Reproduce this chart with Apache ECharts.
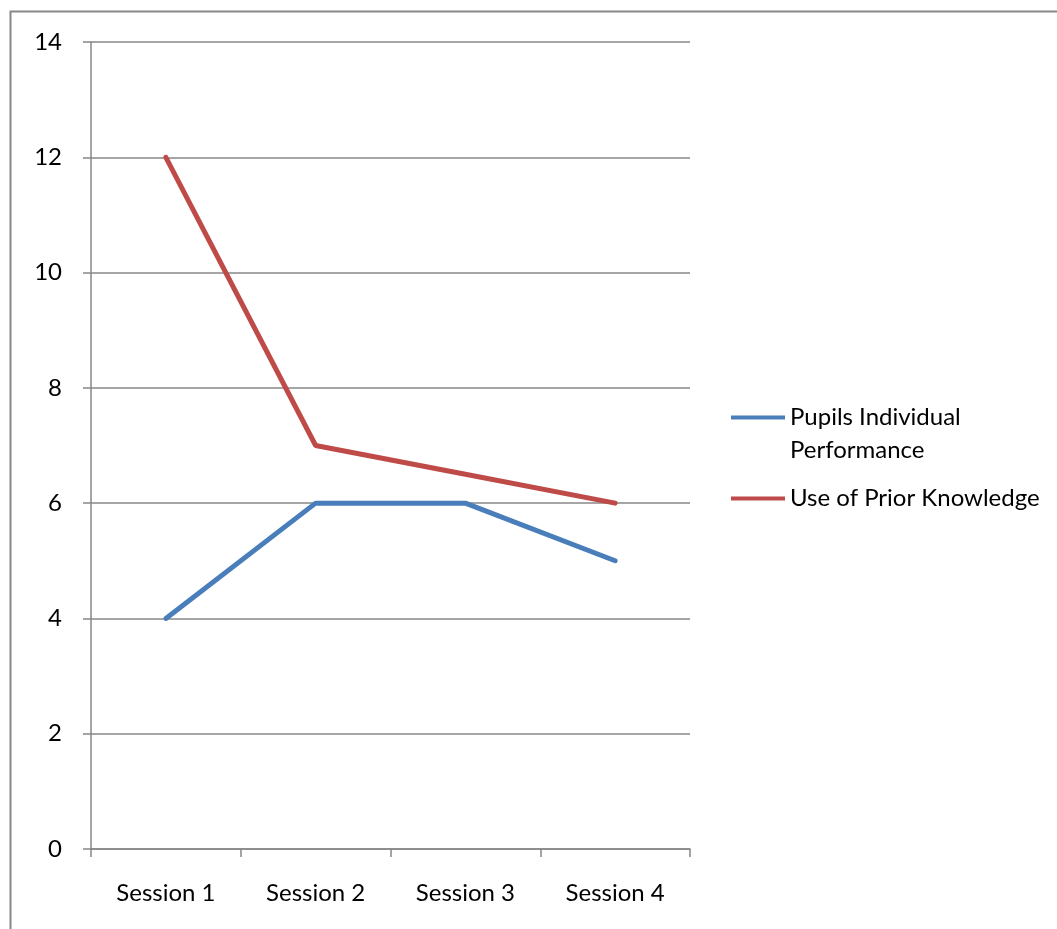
<!DOCTYPE html>
<html>
<head>
<meta charset="utf-8">
<script src="https://cdn.jsdelivr.net/npm/echarts@6/dist/echarts.min.js"></script>
<style>
  html, body { margin: 0; padding: 0; background: #fff; }
  #chart { width: 1057px; height: 929px; }
</style>
</head>
<body>
<div id="chart"></div>
<script>
// Session categories and the two measured series
const sessions = ['Session 1', 'Session 2', 'Session 3', 'Session 4'];
const pupilsPerformance = [4, 6, 6, 5];
const priorKnowledge = [12, 7, 6.5, 6];
const seriesNames = ['Pupils Individual Performance', 'Use of Prior Knowledge'];
// leading blank line keeps the first text line level with the legend swatch
const legendLabels = ['\nPupils Individual\nPerformance', 'Use of Prior Knowledge'];

const FONT = 'Lato, "Open Sans", sans-serif';
const GRAY = '#878787';

const chart = echarts.init(document.getElementById('chart'));
chart.setOption({
  animation: false,
  backgroundColor: '#fff',
  graphic: [{
    type: 'rect',
    shape: { x: 10.5, y: 11.5, width: 1100, height: 1000 },
    style: { fill: 'none', stroke: GRAY, lineWidth: 2 },
    silent: true
  }],
  grid: { left: 91, top: 42, right: 367, bottom: 80, containLabel: false },
  xAxis: {
    type: 'category',
    data: sessions,
    boundaryGap: true,
    axisLine: { lineStyle: { color: GRAY, width: 1.5 } },
    axisTick: { show: true, length: 8, lineStyle: { color: GRAY, width: 1.5 } },
    axisLabel: { color: '#000', fontFamily: FONT, fontSize: 24, margin: 32 }
  },
  yAxis: {
    type: 'value',
    min: 0, max: 14, interval: 2,
    axisLine: { show: true, lineStyle: { color: GRAY, width: 1.5 } },
    axisTick: { show: true, length: 8, lineStyle: { color: GRAY, width: 1.5 } },
    splitLine: { lineStyle: { color: GRAY, width: 1.5 } },
    axisLabel: { color: '#000', fontFamily: FONT, fontSize: 24, margin: 29 }
  },
  legend: {
    orient: 'vertical',
    left: 726,
    top: 363,
    itemWidth: 54,
    itemHeight: 4,
    itemGap: 15,
    icon: 'rect',
    selectedMode: false,
    formatter: name => legendLabels[seriesNames.indexOf(name)],
    textStyle: { color: '#000', fontFamily: FONT, fontSize: 24, lineHeight: 33 },
    data: seriesNames
  },
  series: [
    {
      name: seriesNames[0], type: 'line', data: pupilsPerformance,
      symbol: 'none', itemStyle: { color: '#4a7ebb' },
      lineStyle: { color: '#4a7ebb', width: 5, cap: 'round' }
    },
    {
      name: seriesNames[1], type: 'line', data: priorKnowledge,
      symbol: 'none', itemStyle: { color: '#be4b48' },
      lineStyle: { color: '#be4b48', width: 5, cap: 'round' }
    }
  ]
});
</script>
</body>
</html>
